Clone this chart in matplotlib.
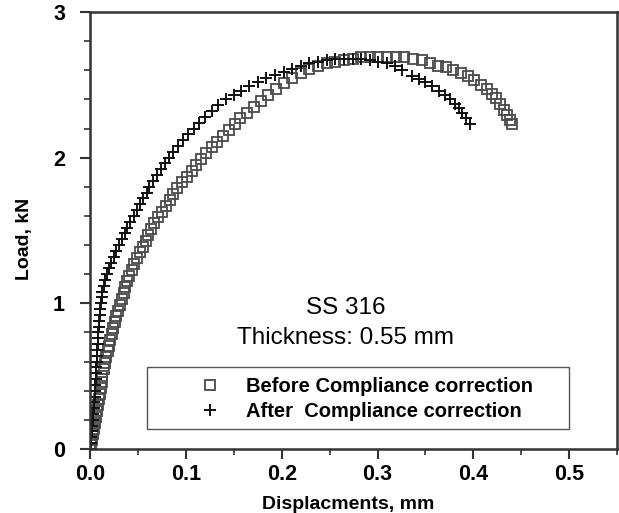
import numpy as np
import matplotlib
matplotlib.use('Agg')
from matplotlib import pyplot as plt
from matplotlib.patches import Rectangle
from matplotlib.ticker import MultipleLocator

# begin DATA
# before compliance correction (squares)
before_x = [0.000, 0.001, 0.002, 0.003, 0.004, 0.005, 0.006, 0.007, 0.008, 0.009,
            0.010, 0.011, 0.012, 0.013, 0.015, 0.016, 0.017, 0.019, 0.020, 0.021,
            0.023, 0.024, 0.026, 0.027, 0.029, 0.031, 0.033, 0.035, 0.037, 0.039,
            0.041, 0.044, 0.046, 0.049, 0.052, 0.055, 0.058, 0.061, 0.064, 0.067,
            0.071, 0.075, 0.079, 0.083, 0.087, 0.091, 0.096, 0.101, 0.106, 0.111,
            0.116, 0.121, 0.127, 0.133, 0.139, 0.145, 0.151, 0.157, 0.164, 0.171,
            0.178, 0.186, 0.194, 0.202, 0.211, 0.220, 0.229, 0.238, 0.247, 0.256,
            0.265, 0.274, 0.283, 0.292, 0.301, 0.310, 0.319, 0.328, 0.337, 0.346,
            0.355, 0.363, 0.371, 0.379, 0.387, 0.394, 0.401, 0.408, 0.414, 0.419,
            0.424, 0.428, 0.432, 0.435, 0.438, 0.440]
before_y = [0.00, 0.03, 0.06, 0.10, 0.14, 0.18, 0.22, 0.26, 0.30, 0.34,
            0.38, 0.42, 0.46, 0.50, 0.55, 0.59, 0.63, 0.67, 0.71, 0.75,
            0.79, 0.83, 0.87, 0.91, 0.95, 0.99, 1.03, 1.07, 1.11, 1.15,
            1.19, 1.23, 1.27, 1.31, 1.35, 1.39, 1.43, 1.47, 1.51, 1.55,
            1.59, 1.63, 1.67, 1.71, 1.75, 1.79, 1.83, 1.87, 1.91, 1.95,
            1.99, 2.03, 2.07, 2.11, 2.15, 2.19, 2.23, 2.27, 2.31, 2.35,
            2.39, 2.43, 2.47, 2.51, 2.55, 2.58, 2.61, 2.63, 2.65, 2.66,
            2.67, 2.68, 2.69, 2.69, 2.69, 2.69, 2.69, 2.69, 2.68, 2.67,
            2.65, 2.63, 2.62, 2.60, 2.58, 2.56, 2.53, 2.50, 2.47, 2.44,
            2.41, 2.37, 2.33, 2.29, 2.26, 2.23]

# after compliance correction (plus)
after_x = [0.000, 0.001, 0.001, 0.002, 0.002, 0.003, 0.003, 0.004, 0.004, 0.005,
           0.005, 0.005, 0.006, 0.006, 0.006, 0.007, 0.007, 0.007, 0.008, 0.008,
           0.008, 0.009, 0.009, 0.010, 0.010, 0.011, 0.012, 0.013, 0.015, 0.016,
           0.018, 0.020, 0.022, 0.025, 0.027, 0.030, 0.033, 0.036, 0.039, 0.042,
           0.046, 0.049, 0.052, 0.055, 0.059, 0.062, 0.066, 0.070, 0.074, 0.078,
           0.082, 0.087, 0.092, 0.097, 0.102, 0.108, 0.114, 0.120, 0.127, 0.134,
           0.142, 0.150, 0.158, 0.166, 0.175, 0.184, 0.193, 0.202, 0.211, 0.220,
           0.229, 0.238, 0.247, 0.256, 0.265, 0.274, 0.283, 0.292, 0.301, 0.310,
           0.318, 0.326, 0.336, 0.343, 0.350, 0.357, 0.364, 0.370, 0.376, 0.381,
           0.385, 0.388, 0.392, 0.396]
after_y = [0.00, 0.04, 0.08, 0.12, 0.16, 0.20, 0.24, 0.28, 0.32, 0.36,
           0.40, 0.44, 0.48, 0.52, 0.56, 0.60, 0.64, 0.68, 0.72, 0.76,
           0.80, 0.84, 0.88, 0.92, 0.96, 1.00, 1.04, 1.08, 1.12, 1.16,
           1.20, 1.24, 1.28, 1.32, 1.36, 1.40, 1.44, 1.48, 1.52, 1.56,
           1.60, 1.64, 1.68, 1.72, 1.76, 1.80, 1.84, 1.88, 1.92, 1.96,
           2.00, 2.04, 2.08, 2.12, 2.16, 2.20, 2.24, 2.28, 2.32, 2.36,
           2.40, 2.43, 2.46, 2.49, 2.52, 2.55, 2.57, 2.59, 2.61, 2.63,
           2.65, 2.66, 2.67, 2.68, 2.68, 2.68, 2.68, 2.67, 2.66, 2.65,
           2.63, 2.60, 2.56, 2.54, 2.52, 2.49, 2.46, 2.43, 2.40, 2.37,
           2.34, 2.31, 2.27, 2.23]

x_ticks = [0.0, 0.1, 0.2, 0.3, 0.4, 0.5]
x_ticklabels = ['0.0', '0.1', '0.2', '0.3', '0.4', '0.5']
y_ticks = [0, 1, 2, 3]
y_ticklabels = ['0', '1', '2', '3']
# end DATA

plt.rcParams['font.family'] = ['Liberation Sans', 'DejaVu Sans']

fig = plt.figure(figsize=(6.19, 5.13), dpi=100)
ax = fig.add_axes([0.1454, 0.1248, 0.8516, 0.8518])

ax.plot(before_x, before_y, 's', markersize=7.5, markerfacecolor='none',
        markeredgecolor='#4a4a4a', markeredgewidth=1.3,
        label='Before Compliance correction')
ax.plot(after_x, after_y, '+', markersize=9, color='#111111',
        markeredgewidth=1.4, label='After  Compliance correction')

ax.set_xlim(0, 0.55)
ax.set_ylim(0, 3)
ax.set_xticks(x_ticks)
ax.set_xticklabels(x_ticklabels)
ax.set_yticks(y_ticks)
ax.set_yticklabels(y_ticklabels)
ax.xaxis.set_minor_locator(MultipleLocator(0.05))
ax.yaxis.set_minor_locator(MultipleLocator(0.2))
ax.tick_params(which='major', direction='out', length=7, width=1.5,
               color='#333333', labelsize=15.5, pad=4)
ax.tick_params(which='minor', direction='out', length=4, width=1.2,
               color='#333333')
ax.tick_params(axis='y', which='major', pad=11)
for lab in ax.get_xticklabels() + ax.get_yticklabels():
    lab.set_fontweight('bold')

for s in ax.spines.values():
    s.set_linewidth(1.8)
    s.set_color('#333333')

ax.set_xlabel('Displacments, mm', fontsize=14, fontweight='bold')
ax.set_ylabel('Load, kN', fontsize=14, fontweight='bold')
ax.xaxis.set_label_coords(0.49, -0.107)
ax.yaxis.set_label_coords(-0.108, 0.48)

ax.text(0.267, 0.97, 'SS 316', fontsize=17.5, ha='center', va='center')
ax.text(0.267, 0.76, 'Thickness: 0.55 mm', fontsize=17.5, ha='center',
        va='center')

leg = ax.legend(loc='center left', bbox_to_anchor=(0.208, 0.114),
                frameon=False, prop={'weight': 'bold', 'size': 14.5},
                handlelength=1.0, handletextpad=1.3, borderpad=0,
                borderaxespad=0, labelspacing=0.32, numpoints=1)
ax.add_patch(Rectangle((0.108, 0.046), 0.801, 0.142, transform=ax.transAxes,
                       fill=False, edgecolor='#555555', linewidth=1.0))

fig.savefig('out.png', dpi=100)
